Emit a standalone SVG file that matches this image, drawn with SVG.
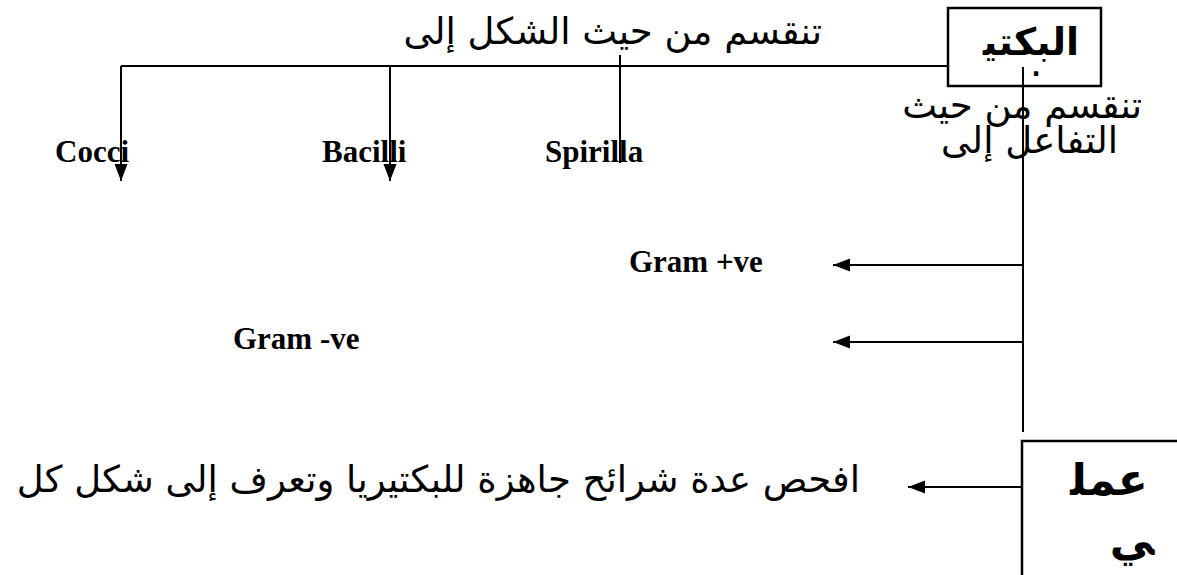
<svg xmlns="http://www.w3.org/2000/svg" width="1177" height="575" viewBox="0 0 1177 575">
  <style>
    .ar { font-family: "DejaVu Sans", "Noto Sans", sans-serif; fill: #000; font-size: 37px; }
    .arb { font-family: "DejaVu Sans", "Noto Sans", sans-serif; fill: #000; font-weight: bold; }
    .lat { font-family: "Liberation Serif", "Times New Roman", serif; font-weight: bold; fill: #000; font-size: 31px; }
    .box { fill: none; stroke: #000; stroke-width: 2.5; }
    .ln { stroke: #000; stroke-width: 2; fill: none; }
  </style>
  <defs>
    <marker id="head" markerUnits="userSpaceOnUse" markerWidth="18" markerHeight="16" refX="17" refY="8" orient="auto">
      <path d="M0,1.5 L17,8 L0,14.5 Z" fill="#000"/>
    </marker>
  </defs>
  <rect width="1177" height="575" fill="#fff"/>

  <!-- connectors -->
  <g id="connectors">
    <line class="ln" x1="121" y1="66" x2="948" y2="66"/>
    <line class="ln" x1="121" y1="66" x2="121" y2="181" marker-end="url(#head)"/>
    <line class="ln" x1="390" y1="66" x2="390" y2="181" marker-end="url(#head)"/>
    <line class="ln" x1="620" y1="55" x2="620" y2="163"/>
    <line class="ln" x1="1023" y1="67" x2="1023" y2="432"/>
    <line class="ln" x1="1023" y1="265" x2="833" y2="265" marker-end="url(#head)"/>
    <line class="ln" x1="1023" y1="342" x2="833" y2="342" marker-end="url(#head)"/>
    <line class="ln" x1="1023" y1="487" x2="908" y2="487" marker-end="url(#head)"/>
  </g>

  <!-- bacteria node -->
  <g id="node-bacteria">
    <rect class="box" x="948" y="8" width="153" height="78"/>
    <text class="arb" x="1031" y="55" font-size="38" text-anchor="middle">البكتي&#x200D;</text>
    <text class="arb" x="1036" y="76" font-size="24" text-anchor="middle">.</text>
  </g>

  <!-- division by shape -->
  <g id="label-shape">
    <text class="ar" x="822" y="44" text-anchor="end">تنقسم من حيث الشكل إلى</text>
  </g>

  <!-- division by reaction -->
  <g id="label-reaction">
    <text class="ar" x="1142" y="118" text-anchor="end">تنقسم من حيث</text>
    <text class="ar" x="1118" y="153" text-anchor="end">التفاعل إلى</text>
  </g>

  <g id="node-cocci"><text class="lat" x="55" y="162">Cocci</text></g>
  <g id="node-bacilli"><text class="lat" x="322" y="162">Bacilli</text></g>
  <g id="node-spirilla"><text class="lat" x="545" y="162">Spirilla</text></g>
  <g id="node-gram-pos"><text class="lat" x="629" y="272">Gram +ve</text></g>
  <g id="node-gram-neg"><text class="lat" x="233" y="349">Gram -ve</text></g>

  <!-- practical node -->
  <g id="node-practical">
    <rect class="box" x="1022" y="441" width="200" height="200"/>
    <text class="arb" x="1109" y="495" font-size="44" text-anchor="middle">عمل&#x200D;</text>
    <text class="arb" x="1132" y="555" font-size="44" text-anchor="middle">&#x200D;ي</text>
  </g>

  <g id="node-task">
    <text class="ar" x="860" y="492" font-size="37.4" text-anchor="end">افحص عدة شرائح جاهزة للبكتيريا وتعرف إلى شكل كل</text>
  </g>
</svg>
